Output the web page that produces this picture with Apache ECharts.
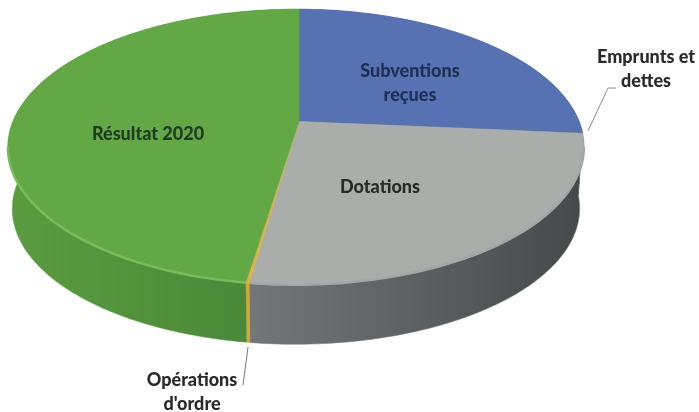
<!DOCTYPE html>
<html><head><meta charset="utf-8">
<style>html,body{margin:0;padding:0;background:#fff}#c{width:699px;height:412px}</style>
<script src="https://cdn.jsdelivr.net/npm/echarts@6/dist/echarts.min.js"></script>
</head><body><div id="c"></div>
<script>
const categories = ["Subventions reçues", "Emprunts et dettes", "Dotations", "Opérations d'ordre", "Résultat 2020"];
const values = [26.3, 0.1, 25.9, 0.15, 47.55];

const topColors = ["#5672b3", "#5a6f9c", "#a9aeab", "#e3b23a", "#62a945"];
const sideStops = [
  ["#3f5488", "#33456f"],
  ["#50565c", "#50565c"],
  ["#74777a", "#46494a"],
  ["#d9a62e", "#d9a62e"],
  ["#5b9c40", "#468536"]
];
const rimColors = ["#5672b3", "#5a6f9c", "#a3a7a6", "#e3b23a", "#79bb5c"];

const total = values.reduce((a, b) => a + b, 0);
const starts = [];
values.reduce((acc, v, i) => { starts[i] = acc; return acc + v; }, 0);

// tilted-disc projection
const CX = 299, CY = 121.5, AX = 283, BY = 133, TILT = 0.185, SKEW = 0.0105, DEPTH = 62, SHRINK = 0.985;
function project(theta, bottom) {
  const u = Math.sin(theta), v = -Math.cos(theta);
  const w = 1 - TILT * v + SKEW * u;
  const k = bottom ? SHRINK : 1;
  return [CX + k * AX * u / w, CY + k * BY * v / w + (bottom ? DEPTH : 0)];
}
function arc(i, bottom) {
  const a0 = starts[i] / total * 2 * Math.PI;
  const a1 = (starts[i] + values[i]) / total * 2 * Math.PI;
  const n = Math.max(3, Math.ceil((a1 - a0) / 0.02));
  const pts = [];
  for (let k = 0; k <= n; k++) pts.push(project(a0 + (a1 - a0) * k / n, bottom));
  return pts;
}
function frontArc(i) {
  return arc(i, false).filter(p => p[1] > CY + 24);
}
const seriesData = categories.map((name, i) => ({ name, value: values[i] }));

function renderSide(params) {
  const i = params.dataIndex;
  const top = arc(i, false), bot = arc(i, true).reverse();
  return {
    type: 'polygon',
    shape: { points: top.concat(bot) },
    style: {
      fill: new echarts.graphic.LinearGradient(0, 0, 1, 0, [
        { offset: 0, color: sideStops[i][0] }, { offset: 1, color: sideStops[i][1] }
      ]),
      stroke: sideStops[i][0], lineWidth: 0.5
    }
  };
}
function renderTop(params) {
  const i = params.dataIndex;
  const pts = [[CX, CY]].concat(arc(i, false));
  const rim = frontArc(i);
  const children = [{
    type: 'polygon', shape: { points: pts },
    style: { fill: topColors[i], stroke: topColors[i], lineWidth: 0.6 }
  }];
  if (rim.length > 1) children.push({
    type: 'polyline', shape: { points: rim },
    style: { fill: null, stroke: rimColors[i], lineWidth: 2.5 }
  });
  return { type: 'group', children };
}
const labelStyle = (text, x, y, fill) => ({
  type: 'text', x, y, z: 20,
  style: { text, fill, font: '900 18px Lato', textAlign: 'center', textVerticalAlign: 'middle', lineHeight: 24 }
});
const chart = echarts.init(document.getElementById('c'), null, { renderer: 'canvas' });
chart.setOption({
  animation: false,
  backgroundColor: '#fff',
  series: [
    { type: 'custom', coordinateSystem: 'none', z: 1, silent: true, renderItem: renderSide, data: seriesData },
    { type: 'custom', coordinateSystem: 'none', z: 2, silent: true, renderItem: renderTop, data: seriesData }
  ],
  graphic: [
    labelStyle(categories[0].replace(' ', '\n'), 410, 83, '#1f2f52'),
    labelStyle('Emprunts et\ndettes', 646, 69, '#2a2a2a'),
    labelStyle(categories[2], 380, 187, '#2a2a2a'),
    labelStyle('Opérations\nd\'ordre', 192, 392, '#2a2a2a'),
    labelStyle(categories[4], 148, 134, '#1f3a25'),
    { type: 'polyline', z: 20, shape: { points: [[588, 131], [608, 88], [616, 88]] }, style: { fill: null, stroke: '#8a8a8a', lineWidth: 1 } },
    { type: 'polyline', z: 20, shape: { points: [[248, 347], [243, 385]] }, style: { fill: null, stroke: '#777', lineWidth: 1 } }
  ]
});
</script></body></html>
